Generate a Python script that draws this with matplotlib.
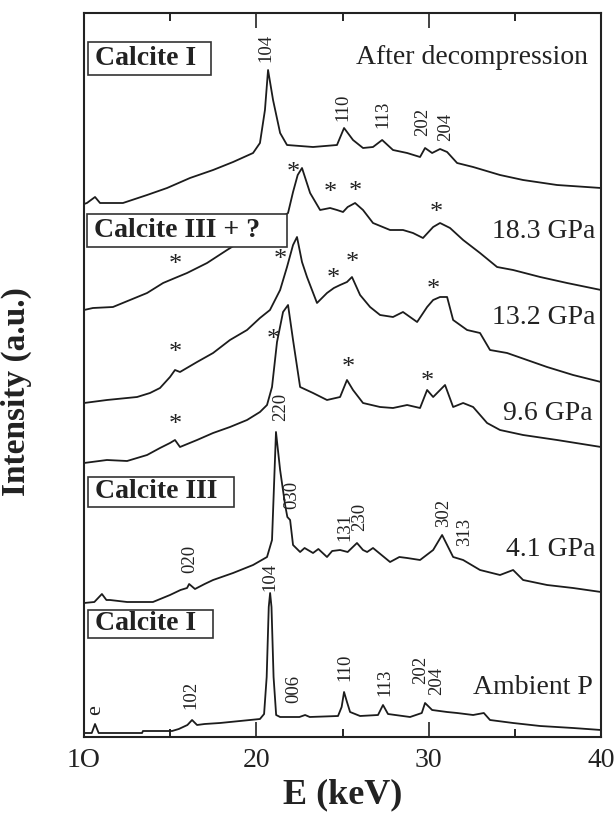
import matplotlib
matplotlib.use("Agg")
import matplotlib.pyplot as plt
from matplotlib.patches import Rectangle
from matplotlib.ticker import FixedLocator

plt.rcParams['font.family'] = ['Liberation Serif', 'DejaVu Serif']

# ---------------- data (E in keV, intensity in arbitrary stacked units) -------------
E_ambient = [10.0, 10.45, 10.64, 10.85, 13.37, 13.42, 15.11, 15.5, 16.0, 16.27, 16.56, 17.0,
             17.89, 19.05, 20.21, 20.45, 20.6, 20.72, 20.8, 20.88, 21.0, 21.15, 21.38, 22.5,
             22.83, 23.1, 24.74, 24.95, 25.09, 25.26, 25.44, 26.02, 27.06, 27.35, 27.64, 28.92,
             29.6, 29.79, 30.2, 31.07, 31.65, 32.58, 33.2, 33.56, 34.9, 36.47, 38.38, 40.0]
I_ambient = [4, 4, 13, 4, 4, 6, 6, 8, 12, 17, 12, 13,
             14, 16, 18, 23, 60, 130, 144, 130, 60, 22, 20, 20,
             22, 20, 21, 30, 45, 35, 25, 21, 22, 32, 23, 20,
             24, 34, 27, 25, 24, 22, 24, 17, 14, 11, 9, 7]

E_41 = [10.0, 10.6, 11.04, 11.3, 11.51, 12.5, 14.0, 14.99, 15.6, 15.98, 16.1, 16.44, 17.0,
        17.49, 18.65, 19.81, 20.62, 20.91, 21.14, 21.38, 21.67, 21.8, 21.96, 22.13, 22.54,
        22.8, 23.29, 23.6, 24.1, 24.4, 24.86, 25.3, 25.84, 26.19, 26.43, 26.77, 27.76, 28.3,
        28.75, 29.5, 30.26, 30.78, 31.42, 32.0, 32.98, 34.14, 34.9, 35.48, 36.87, 38.38, 40.0]
I_41 = [134, 135, 143, 137, 137, 135, 135, 142, 147, 149, 153, 148, 153,
        157, 164, 172, 180, 197, 305, 267, 232, 220, 217, 192, 185,
        189, 184, 188, 180, 186, 187, 185, 194, 187, 185, 189, 175, 180,
        179, 177, 187, 202, 180, 177, 167, 162, 167, 157, 152, 149, 145]

E_96 = [10.0, 11.33, 12.5, 13.66, 14.41, 14.99, 15.28, 15.57, 16.56, 17.49, 18.47, 19.46,
        20.21, 20.62, 20.91, 21.2, 21.55, 21.84, 22.13, 22.54, 23.29, 24.1, 24.86, 25.26,
        25.61, 26.19, 27.18, 27.93, 28.75, 29.5, 29.91, 30.26, 30.95, 31.42, 32.0, 32.58,
        33.39, 34.14, 35.48, 37.45, 40.0]
I_96 = [274, 277, 276, 282, 289, 294, 297, 290, 297, 304, 310, 317,
        325, 332, 350, 395, 425, 432, 397, 350, 344, 337, 340, 357,
        347, 334, 330, 329, 332, 329, 347, 340, 352, 330, 334, 330,
        314, 307, 302, 297, 290]

E_132 = [10.0, 11.33, 13.08, 13.83, 14.41, 14.99, 15.28, 15.57, 16.56, 17.49, 18.47, 19.46,
         20.21, 20.79, 21.38, 21.78, 22.13, 22.36, 22.65, 22.94, 23.52, 24.1, 24.5, 24.86,
         25.26, 25.55, 26.02, 26.6, 27.18, 27.93, 28.51, 29.33, 29.91, 30.26, 30.66, 31.07,
         31.42, 32.23, 32.98, 33.56, 34.55, 35.71, 36.87, 38.38, 40.0]
I_132 = [334, 337, 340, 344, 349, 360, 367, 365, 375, 384, 397, 407,
         419, 427, 447, 470, 492, 500, 475, 460, 434, 444, 449, 452,
         455, 460, 442, 430, 422, 420, 425, 415, 430, 437, 440, 440,
         417, 407, 404, 387, 384, 377, 370, 362, 355]

E_183 = [10.0, 10.52, 11.68, 12.67, 13.66, 14.59, 15.28, 15.98, 17.14, 18.3, 19.5, 20.5,
         21.5, 21.84, 22.13, 22.4, 22.65, 23.12, 23.7, 24.28, 24.68, 25.03, 25.3, 25.73,
         26.19, 26.77, 27.76, 28.51, 29.09, 29.67, 30.26, 30.66, 31.24, 32.0, 32.98, 33.97,
         34.9, 36.47, 38.03, 40.0]
I_183 = [427, 429, 430, 437, 444, 454, 459, 464, 474, 487, 500, 512,
         520, 524, 545, 562, 569, 544, 527, 529, 527, 525, 530, 534,
         527, 514, 507, 507, 504, 499, 510, 514, 509, 497, 484, 470,
         467, 460, 454, 447]

E_after = [10.0, 10.17, 10.64, 10.93, 12.26, 13.66, 14.82, 16.15, 17.49, 18.65, 19.81, 20.21,
           20.5, 20.68, 20.97, 21.38, 21.78, 23.29, 24.68, 25.09, 25.61, 26.19, 26.77, 27.3,
           27.93, 28.75, 29.5, 29.79, 30.2, 30.66, 31.07, 31.65, 32.58, 34.14, 35.48, 37.45, 40.0]
I_after = [533, 534, 540, 534, 534, 542, 549, 559, 567, 575, 584, 594,
           627, 667, 637, 604, 592, 590, 592, 609, 597, 589, 590, 597,
           587, 584, 580, 589, 584, 588, 585, 574, 570, 562, 557, 552, 549]

traces = [(E_ambient, I_ambient), (E_41, I_41), (E_96, I_96),
          (E_132, I_132), (E_183, I_183), (E_after, I_after)]

pressure_labels = ["After decompression", "18.3 GPa", "13.2 GPa", "9.6 GPa", "4.1 GPa", "Ambient P"]
phase_labels = ["Calcite I", "Calcite III + ?", "Calcite III", "Calcite I"]
x_ticks = [10, 20, 30, 40]
x_tick_labels = ["1O", "20", "30", "40"]

# peak indices (hkl) labels: text, E, height
peak_after = [("104", 20.56, 689), ("110", 25.05, 630), ("113", 27.35, 623),
              ("202", 29.67, 615), ("204", 31.0, 610)]
peak_41 = [("020", 16.15, 178), ("220", 21.43, 330), ("030", 22.07, 242),
           ("131", 25.15, 210), ("230", 26.02, 220), ("302", 30.84, 224), ("313", 32.11, 205)]
peak_amb = [("e", 10.7, 27), ("102", 16.21, 42), ("104", 20.8, 160), ("006", 22.19, 48),
            ("110", 25.15, 70), ("113", 27.47, 55), ("202", 29.55, 67), ("204", 30.45, 56)]
stars_E = [22.13, 24.28, 25.73, 30.43, 15.28,
           21.38, 24.45, 25.55, 30.26, 15.28,
           20.97, 25.32, 29.91, 15.28]
stars_I = [564, 544, 545, 524, 472,
           477, 458, 474, 447, 384,
           397, 369, 355, 312]

# ---------------- figure -------------
fig = plt.figure(figsize=(6.14, 8.19), dpi=100)
ax = fig.add_axes([84/614, (819-737)/819, 517/614, 724/819])
ax.set_xlim(10, 40)
ax.set_ylim(0, 724)

lc = '#1c1c1c'
for E, I in traces:
    ax.plot(E, I, color=lc, lw=1.3, zorder=2)

# pressure labels (right side)
press_pos = [(39.25, 679), (39.66, 505), (39.66, 419), (39.5, 324), (39.66, 188), (39.55, 50)]
for txt, (x, y) in zip(pressure_labels, press_pos):
    ax.text(x, y, txt, ha='right', va='center', fontsize=20, color='#222', zorder=5)

# phase boxes
boxes = [(10.23, 17.37, 662, 695), (10.17, 21.78, 490, 523),
         (10.23, 18.71, 230, 260), (10.23, 17.49, 99, 127)]
for txt, (x0, x1, y0, y1) in zip(phase_labels, boxes):
    ax.add_patch(Rectangle((x0, y0), x1 - x0, y1 - y0, facecolor='white',
                           edgecolor='#333', lw=1.2, zorder=4))
    ax.text(x0 + 0.42, (y0 + y1) / 2, txt, ha='left', va='center', fontsize=20,
            fontweight='bold', color='#222', zorder=5)

for group in (peak_after, peak_41, peak_amb):
    for txt, x, y in group:
        ax.text(x, y, txt, rotation=90, ha='center', va='center',
                fontsize=16 if txt == "e" else 13.5, color='#222', zorder=5)

for x, y in zip(stars_E, stars_I):
    ax.text(x, y, "*", ha='center', va='center', fontsize=19, color='#222', zorder=5)

# axes styling
ax.set_yticks([])
ax.xaxis.set_major_locator(FixedLocator(x_ticks))
ax.set_xticklabels(x_tick_labels)
ax.xaxis.set_minor_locator(FixedLocator([15, 25, 35]))
ax.tick_params(axis='x', which='major', direction='in', length=11, width=1.2,
               top=True, labelsize=20, pad=8, colors='#222')
ax.tick_params(axis='x', which='minor', direction='in', length=6, width=1.2, top=True)
for s in ax.spines.values():
    s.set_linewidth(1.5)
    s.set_color('#222')

ax.set_xlabel("E (keV)", fontsize=26, fontweight='bold', color='#222', labelpad=4)
ax.set_ylabel("Intensity (a.u.)", fontsize=24, fontweight='bold', color='#222')
ax.yaxis.set_label_coords(-0.1, 0.477)

fig.savefig("out.png", dpi=100)
